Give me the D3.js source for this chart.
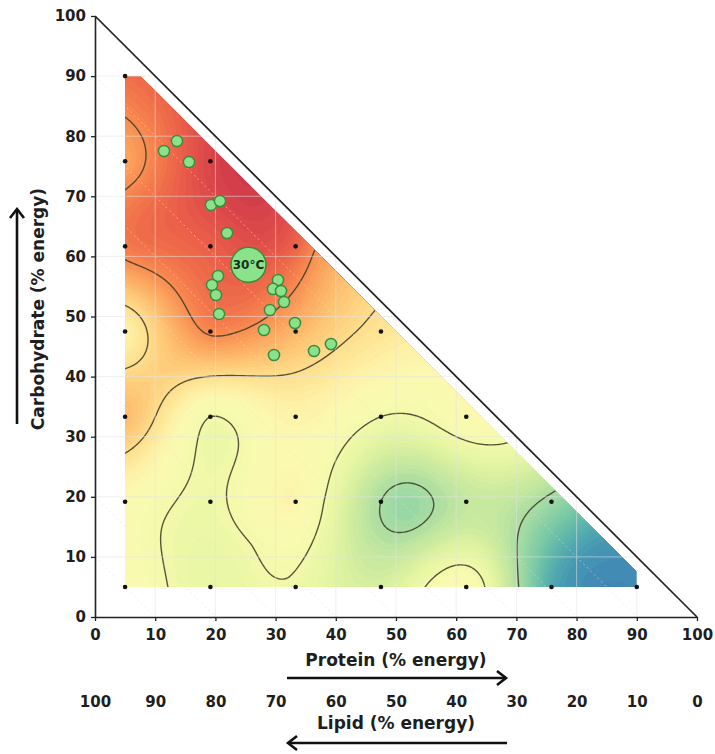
<!DOCTYPE html>
<html><head><meta charset="utf-8">
<script src="https://cdn.jsdelivr.net/npm/d3@7"></script>
<style>
body{margin:0;background:#fff}
text{font-family:"DejaVu Sans",sans-serif;font-weight:bold;fill:#1e1e1e}
</style>
</head><body>
<svg id="c" width="715" height="754"></svg>
<script>
// ---------- data ----------
const axisTicks = [0,10,20,30,40,50,60,70,80,90,100];
const lipidTickLabels = [100,90,80,70,60,50,40,30,20,10,0];
const designLevels = [5,19.17,33.33,47.5,61.67,75.83,90];

// fitted response surface (0 = red end, 1 = blue end)
const surfProtein = [5,5,5,5,5,5,5,
  19.17,19.17,19.17,19.17,19.17,19.17,
  33.33,33.33,33.33,33.33,33.33,
  47.5,47.5,47.5,47.5,
  61.67,61.67,61.67,
  75.83,75.83,
  90,
  52,8,26,36.5,46.5,57,68.5,76.5,84,11,
  38,40.5,32,26,5,5];
const surfCarb = [5,19.17,33.33,47.5,61.67,75.83,90,
  5,19.17,33.33,47.5,61.67,75.83,
  5,19.17,33.33,47.5,61.67,
  5,19.17,33.33,47.5,
  5,19.17,33.33,
  5,19.17,
  5,
  18,89.5,71.5,61,51,40.5,29,21,13.5,40.5,
  19,27,6.5,12,69,85];
const surfValue = [0.50,0.50,0.33,0.46,0.22,0.29,0.20,
  0.58,0.56,0.55,0.24,0.17,0.12,
  0.565,0.48,0.47,0.32,0.18,
  0.62,0.70,0.55,0.42,
  0.50,0.66,0.50,
  0.84,0.72,
  0.90,
  0.73,0.19,0.10,0.25,0.40,0.49,0.55,0.70,0.86,0.37,
  0.55,0.55,0.55,0.55,0.23,0.235];
const contourLevels = [0.25,0.40,0.55,0.70];

// observed intakes (green circles)
const obsProtein = [11.46,13.62,15.61,19.27,20.76,21.93,20.43,19.44,20.10,20.60,
  30.40,29.57,30.90,31.40,29.07,28.07,33.22,29.73,36.38,39.20];
const obsCarb = [77.54,79.20,75.71,68.55,69.22,63.89,56.74,55.24,53.58,50.42,
  56.07,54.58,54.24,52.41,51.08,47.75,48.92,43.59,44.26,45.42];
const optProtein = [25.5];
const optCarb = [58.6];
const optLabel = ["30°C"];

// ---------- scales ----------
const svg = d3.select("#c");
const x = d3.scaleLinear().domain([0,100]).range([95,697]);
const y = d3.scaleLinear().domain([0,100]).range([617,16]);
const color = v => d3.interpolateSpectral(Math.max(0,Math.min(1,v)));

// ---------- thin plate spline through the read values ----------
function fitTPS(px, py, pv){
  const n = px.length, N = n+3;
  const X = px.map(d=>d/100), Y = py.map(d=>d/100);
  const U = r2 => r2 <= 0 ? 0 : 0.5*r2*Math.log(r2);
  const A = [];
  for(let i=0;i<N;i++){ A.push(new Float64Array(N+1)); }
  for(let i=0;i<n;i++){
    for(let j=0;j<n;j++){
      const dx=X[i]-X[j], dy=Y[i]-Y[j];
      A[i][j] = U(dx*dx+dy*dy);
    }
    A[i][n]=1; A[i][n+1]=X[i]; A[i][n+2]=Y[i];
    A[n][i]=1; A[n+1][i]=X[i]; A[n+2][i]=Y[i];
    A[i][N]=pv[i];
  }
  for(let c=0;c<N;c++){
    let p=c; for(let r=c+1;r<N;r++) if(Math.abs(A[r][c])>Math.abs(A[p][c])) p=r;
    const t=A[c]; A[c]=A[p]; A[p]=t;
    for(let r=0;r<N;r++){ if(r===c) continue;
      const f=A[r][c]/A[c][c]; if(f===0) continue;
      for(let k=c;k<=N;k++) A[r][k]-=f*A[c][k];
    }
  }
  const w = A.map((row,i)=>row[N]/row[i]);
  return (xx,yy)=>{
    const a=xx/100,b=yy/100;
    let s=w[n]+w[n+1]*a+w[n+2]*b;
    for(let i=0;i<n;i++){const dx=a-X[i],dy=b-Y[i]; s+=w[i]*U(dx*dx+dy*dy);}
    return s;
  };
}
const f = fitTPS(surfProtein, surfCarb, surfValue);

// ---------- grid ----------
const step = 2, gx0 = x(3), gy0 = y(92);
const nx = Math.ceil((x(92)-gx0)/step), ny = Math.ceil((y(3)-gy0)/step);
const grid = new Float64Array(nx*ny);
for(let j=0;j<ny;j++) for(let i=0;i<nx;i++){
  const v = f(x.invert(gx0+(i+0.5)*step), y.invert(gy0+(j+0.5)*step));
  grid[j*nx+i] = Math.max(0, Math.min(1, v));
}
const path = d3.geoPath(d3.geoIdentity().scale(step).translate([gx0,gy0]));

// clip region of the surface
const clipPoly = [[5,5],[90,5],[90,7.5],[7.5,90],[5,90]];
svg.append("defs").append("clipPath").attr("id","surf")
  .append("path").attr("d", d3.line()(clipPoly.map(d=>[x(d[0]),y(d[1])])) + "Z");

const bandThr = d3.range(0, 1.0001, 0.01);
const surf = svg.append("g").attr("clip-path","url(#surf)");
surf.selectAll("path.band")
  .data(d3.contours().size([nx,ny]).thresholds(bandThr)(grid))
  .join("path").attr("class","band")
  .attr("d", path)
  .attr("fill", d => color(d.value+0.005))
  .attr("fill-opacity", 0.93);

// faint grid lines
const gridG = svg.append("g").attr("stroke","#e4e4e4").attr("stroke-width",1).attr("opacity",0.55).attr("fill","none");
axisTicks.slice(1,-1).forEach(t=>{
  gridG.append("line").attr("x1",x(0)).attr("x2",x(100-t)).attr("y1",y(t)).attr("y2",y(t));
  gridG.append("line").attr("x1",x(t)).attr("x2",x(t)).attr("y1",y(0)).attr("y2",y(100-t));
  gridG.append("line").attr("x1",x(0)).attr("y1",y(t)).attr("x2",x(t)).attr("y2",y(0)).attr("stroke-dasharray","2,3");
});

// contour lines
surf.selectAll("path.iso")
  .data(d3.contours().size([nx,ny]).thresholds(contourLevels)(grid))
  .join("path").attr("class","iso")
  .attr("d", path)
  .attr("fill","none").attr("stroke","#3b3b26").attr("stroke-opacity",0.85).attr("stroke-width",1.4);

// design points
const design = [];
designLevels.forEach(p=>designLevels.forEach(c=>{ if(p+c<=95.01) design.push([p,c]); }));
svg.append("g").selectAll("circle").data(design).join("circle")
  .attr("cx",d=>x(d[0])).attr("cy",d=>y(d[1])).attr("r",2.3).attr("fill","#111");

// axes
const ax = svg.append("g").attr("transform",`translate(0,${y(0)})`)
  .call(d3.axisBottom(x).tickValues(axisTicks).tickSize(4).tickSizeOuter(0).tickPadding(8));
const ay = svg.append("g").attr("transform",`translate(${x(0)},0)`)
  .call(d3.axisLeft(y).tickValues(axisTicks).tickSize(4).tickSizeOuter(0).tickPadding(5));
[ax,ay].forEach(g=>{
  g.select(".domain").attr("stroke","#222").attr("stroke-width",1.6);
  g.selectAll(".tick line").attr("stroke","#222").attr("stroke-width",1.3);
  g.selectAll("text").attr("font-size",15).attr("font-family",null).attr("fill","#1e1e1e");
});
const al = svg.append("g").attr("transform",`translate(0,693)`)
  .call(d3.axisBottom(x).tickValues(axisTicks).tickFormat((d,i)=>lipidTickLabels[i]).tickSize(0).tickPadding(3));
al.select(".domain").remove();
al.selectAll("text").attr("font-size",15).attr("font-family",null).attr("fill","#1e1e1e");

// hypotenuse
svg.append("line").attr("x1",x(0)).attr("y1",y(100)).attr("x2",x(100)).attr("y2",y(0))
  .attr("stroke","#222").attr("stroke-width",1.7);

// observed intakes
svg.append("g").selectAll("circle").data(obsProtein).join("circle")
  .attr("cx",d=>x(d)).attr("cy",(d,i)=>y(obsCarb[i])).attr("r",5.6)
  .attr("fill","#8ae28a").attr("stroke","#3d8c3d").attr("stroke-width",1.5);
svg.append("g").selectAll("circle").data(optProtein).join("circle")
  .attr("cx",d=>x(d)).attr("cy",(d,i)=>y(optCarb[i])).attr("r",17.5)
  .attr("fill","#8ae28a").attr("stroke","#3d8c3d").attr("stroke-width",1.5);
svg.append("g").selectAll("text").data(optProtein).join("text")
  .attr("x",d=>x(d)).attr("y",(d,i)=>y(optCarb[i])+4.3).attr("text-anchor","middle")
  .attr("font-size",12).style("fill","#143014").text((d,i)=>optLabel[i]);

// titles
svg.append("text").attr("x",396).attr("y",666).attr("text-anchor","middle").attr("font-size",17).text("Protein (% energy)");
svg.append("text").attr("x",396).attr("y",729).attr("text-anchor","middle").attr("font-size",17).text("Lipid (% energy)");
svg.append("text").attr("transform","translate(44,309) rotate(-90)").attr("text-anchor","middle").attr("font-size",17).text("Carbohydrate (% energy)");

// arrows
const arr = svg.append("g").attr("stroke","#111").attr("stroke-width",2.6).attr("fill","none").attr("stroke-linecap","butt");
arr.append("line").attr("x1",287).attr("x2",506).attr("y1",678).attr("y2",678);
arr.append("polyline").attr("points","497,671 506,678 497,685");
arr.append("line").attr("x1",288).attr("x2",507).attr("y1",743).attr("y2",743);
arr.append("polyline").attr("points","297,736 288,743 297,750");
arr.append("line").attr("x1",17).attr("x2",17).attr("y1",424).attr("y2",209);
arr.append("polyline").attr("points","10,218 17,209 24,218");
</script>
</body></html>
